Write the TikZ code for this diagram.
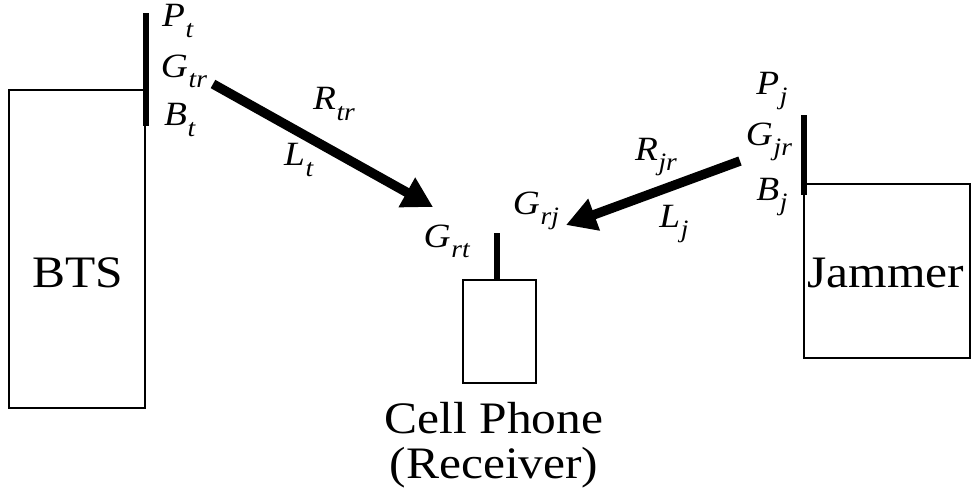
\documentclass[tikz,border=0pt]{standalone}
\usepackage{fontspec}
\setmainfont[FakeStretch=1.1]{Liberation Serif}
\usetikzlibrary{arrows.meta}
\newcommand\lbl[2]{\textit{#1}\kern0.02em\raisebox{-0.3em}{\fontsize{25}{25}\selectfont\textit{#2}}}
\tikzset{
  box/.style={draw, line width=2pt, inner sep=0pt},
  ant/.style={line width=6pt},
  sig/.style={line width=9.5pt, -{Triangle[length=30pt,width=32pt]}},
  sym/.style={inner sep=0pt, font=\fontsize{34}{34}\selectfont},
  big/.style={inner sep=0pt, anchor=base, font=\fontsize{45}{45}\selectfont}
}
\begin{document}
\begin{tikzpicture}[x=1pt,y=-1pt]
\useasboundingbox (0,0) rectangle (974,496);
% BTS
\draw[box] (9,90) rectangle (145,408);
\node[big] (bts) at (78,287) {BTS};
\coordinate (btsA1) at (146,13);
\coordinate (btsA2) at (146,126);
\draw[ant] (btsA1) -- (btsA2);
\node[sym] (pt) at (178,21) {\lbl{P}{t}};
\node[sym] (gtr) at (184,71) {\lbl{G}{tr}};
\node[sym] (bt) at (180,120) {\lbl{B}{t}};
% signal from BTS
\coordinate (s1) at (213,84);
\coordinate (s2) at (433,207);
\draw[sig] (s1) -- (s2);
\node[sym] (rtr) at (334,104) {\lbl{R}{tr}};
\node[sym] (lt) at (299,160) {\lbl{L}{t}};
% Cell phone
\draw[box] (463,280) rectangle (536,383);
\coordinate (ph1) at (497,233);
\coordinate (ph2) at (497,280);
\draw[ant] (ph1) -- (ph2);
\node[sym] (grt) at (447,241) {\lbl{G}{rt}};
\node[sym] (grj) at (536,211) {\lbl{G}{rj}};
\node[big] (cell) at (494,433) {Cell Phone};
\node[big] (recv) at (494,478) {(Receiver)};
% Jammer
\draw[box] (804,184) rectangle (970,358);
\node[big] (jam) at (886,287) {Jammer};
\coordinate (j1) at (804,115);
\coordinate (j2) at (804,195);
\draw[ant] (j1) -- (j2);
\node[sym] (pj) at (772,91) {\lbl{P}{j}};
\node[sym] (gjr) at (769,142) {\lbl{G}{jr}};
\node[sym] (bj) at (772,197) {\lbl{B}{j}};
% signal from jammer
\coordinate (t1) at (740,161);
\coordinate (t2) at (566,225);
\draw[sig] (t1) -- (t2);
\node[sym] (rjr) at (656,157) {\lbl{R}{jr}};
\node[sym] (lj) at (674,224) {\lbl{L}{j}};
\end{tikzpicture}
\end{document}
